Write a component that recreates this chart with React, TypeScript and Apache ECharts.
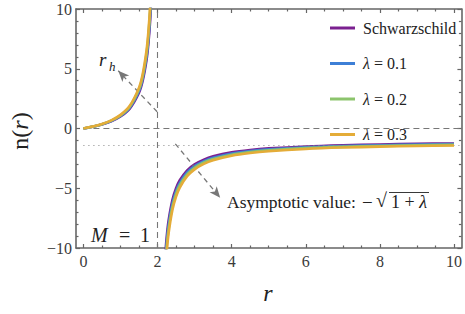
import React, { useEffect, useRef } from "react";
import * as echarts from "echarts";

const seriesNames = ["Schwarzschild", "λ = 0.1", "λ = 0.2", "λ = 0.3"];
const colors = ["#7b2090", "#3d7fd6", "#8cc46c", "#e4ac38"];

// left branch (r < r_h)
const rLeft = [0, 0.25, 0.5, 0.75, 1, 1.25, 1.5, 1.6, 1.7, 1.75, 1.8, 1.85];
const nLeftSchw = [0, 0.143, 0.333, 0.6, 1, 1.667, 3, 4, 5.667, 7, 9, 12.33];
const nLeft01 = [0, 0.15, 0.35, 0.629, 1.049, 1.748, 3.146, 4.195, 5.943, 7.342, 9.439, 12.94];
const nLeft02 = [0, 0.157, 0.365, 0.657, 1.095, 1.826, 3.286, 4.382, 6.207, 7.668, 9.859, 13.51];
const nLeft03 = [0, 0.163, 0.38, 0.684, 1.14, 1.9, 3.421, 4.561, 6.461, 7.981, 10.26, 14.06];

// right branch (r > r_h)
const rRight = [2.15, 2.2, 2.25, 2.3, 2.4, 2.5, 2.6, 2.8, 3, 3.25, 3.5, 4, 4.5, 5, 6, 7, 8, 9, 10];
const nRightSchw = [-14.33, -11, -9, -7.667, -6, -5, -4.333, -3.5, -3, -2.6, -2.333, -2, -1.8, -1.667, -1.5, -1.4, -1.333, -1.286, -1.25];
const nRight01 = [-15.03, -11.54, -9.439, -8.041, -6.293, -5.244, -4.545, -3.671, -3.146, -2.727, -2.447, -2.098, -1.888, -1.748, -1.573, -1.468, -1.398, -1.349, -1.311];
const nRight02 = [-15.7, -12.05, -9.859, -8.398, -6.573, -5.477, -4.747, -3.834, -3.286, -2.848, -2.556, -2.191, -1.972, -1.826, -1.643, -1.534, -1.461, -1.408, -1.369];
const nRight03 = [-16.34, -12.54, -10.26, -8.742, -6.841, -5.701, -4.941, -3.991, -3.421, -2.965, -2.661, -2.28, -2.052, -1.9, -1.71, -1.596, -1.52, -1.466, -1.425];

const xMajor = [0, 2, 4, 6, 8, 10];
const xMinor = [0.5, 1, 1.5, 2.5, 3, 3.5, 4.5, 5, 5.5, 6.5, 7, 7.5, 8.5, 9, 9.5];
const horizonR = 2;
const asymptoteY = -1.36;
const arrowUp = [[1.99, 1.4], [0.94, 4.83]];
const arrowDown = [[2.48, -1.28], [3.69, -5.8]];

const FONT = "Liberation Serif";
const AXIS_COLOR = "#666";
const LABEL_COLOR = "#3a3a3a";

export default function App() {
  const ref = useRef<HTMLDivElement>(null);
  useEffect(() => {
    if (!ref.current) return;
    const chart = echarts.init(ref.current, undefined, { renderer: "svg" });
    const leftData = [nLeftSchw, nLeft01, nLeft02, nLeft03];
    const rightData = [nRightSchw, nRight01, nRight02, nRight03];
    const series: any[] = [];
    for (let i = 0; i < 4; i++) {
      const common = {
        type: "line",
        name: seriesNames[i],
        showSymbol: false,
        symbol: "none",
        smooth: 0.3,
        clip: true,
        color: colors[i],
        lineStyle: { width: 2.6, color: colors[i] },
        z: 3 + i,
      };
      series.push({ ...common, data: rLeft.map((r, k) => [r, leftData[i][k]]) });
      series.push({ ...common, data: rRight.map((r, k) => [r, rightData[i][k]]) });
    }
    // reference lines
    series.push({
      type: "line",
      data: [],
      silent: true,
      z: 2,
      markLine: {
        silent: true,
        symbol: "none",
        label: { show: false },
        animation: false,
        data: [
          [
            { coord: [0, 0], lineStyle: { type: [6, 4], color: "#777", width: 1.1 } },
            { coord: [10.2, 0] },
          ],
          [
            { coord: [horizonR, -10], lineStyle: { type: [6, 4], color: "#777", width: 1.1 } },
            { coord: [horizonR, 10] },
          ],
          [
            { coord: [0, asymptoteY], lineStyle: { type: [1, 4], color: "#888", width: 1.2 } },
            { coord: [10.2, asymptoteY] },
          ],
        ],
      },
    });
    series.push({
      type: "line",
      data: [],
      silent: true,
      z: 10,
      markLine: {
        silent: true,
        symbol: ["none", "arrow"],
        symbolSize: [7, 11],
        label: { show: false },
        animation: false,
        lineStyle: { type: [5, 4], color: "#777", width: 1.3 },
        data: [
          [{ coord: arrowUp[0] }, { coord: arrowUp[1] }],
          [{ coord: arrowDown[0] }, { coord: arrowDown[1] }],
        ],
      },
    });

    const axisLine = { show: true, onZero: false, lineStyle: { color: AXIS_COLOR, width: 1.6 } };
    const noLine = { show: false, onZero: false };
    const tickStyle = { color: AXIS_COLOR, width: 1.2 };
    const option: any = {
      animation: false,
      textStyle: { fontFamily: FONT },
      grid: { left: 76, top: 9, right: 3, bottom: 66, containLabel: false },
      legend: {
        data: seriesNames,
        orient: "vertical",
        left: 325,
        top: 15,
        itemWidth: 25,
        itemHeight: 3,
        itemGap: 19.5,
        icon: "rect",
        selectedMode: false,
        formatter: (name: string) =>
          name.startsWith("λ") ? "{i|λ}{n|" + name.slice(1) + "}" : "{n|" + name + "}",
        textStyle: {
          fontFamily: FONT,
          fontSize: 16,
          color: "#222",
          lineHeight: 16,
          padding: [0, 0, 0, 3],
          rich: {
            i: { fontFamily: FONT, fontStyle: "italic", fontSize: 16, color: "#222" },
            n: { fontFamily: FONT, fontSize: 16, color: "#222" },
          },
        },
      },
      xAxis: [
        {
          type: "value",
          min: -0.2,
          max: 10.2,
          position: "bottom",
          axisLine,
          splitLine: { show: false },
          axisTick: { show: true, inside: true, length: 4, lineStyle: tickStyle, customValues: xMajor },
          axisLabel: {
            show: true,
            customValues: xMajor,
            fontFamily: FONT,
            fontSize: 16,
            color: LABEL_COLOR,
            margin: 5,
          },
        },
        {
          type: "value",
          min: -0.2,
          max: 10.2,
          position: "bottom",
          axisLine: noLine,
          splitLine: { show: false },
          axisTick: { show: true, inside: true, length: 2.5, lineStyle: tickStyle, customValues: xMinor },
          axisLabel: { show: false },
        },
        {
          type: "value",
          min: -0.2,
          max: 10.2,
          position: "top",
          axisLine,
          splitLine: { show: false },
          axisTick: { show: true, inside: true, length: 4, lineStyle: tickStyle, customValues: xMajor },
          axisLabel: { show: false },
        },
        {
          type: "value",
          min: -0.2,
          max: 10.2,
          position: "top",
          axisLine: noLine,
          splitLine: { show: false },
          axisTick: { show: true, inside: true, length: 2.5, lineStyle: tickStyle, customValues: xMinor },
          axisLabel: { show: false },
        },
      ],
      yAxis: [
        {
          type: "value",
          min: -10,
          max: 10,
          interval: 5,
          position: "left",
          axisLine,
          splitLine: { show: false },
          axisTick: { show: true, inside: true, length: 4, lineStyle: tickStyle },
          minorTick: { show: true, splitNumber: 5, length: 2.5, lineStyle: tickStyle },
          axisLabel: {
            show: true,
            fontFamily: FONT,
            fontSize: 16,
            color: LABEL_COLOR,
            margin: 4,
            formatter: (v: number) => (v < 0 ? "\u2212" + Math.abs(v) : String(v)),
          },
        },
        {
          type: "value",
          min: -10,
          max: 10,
          interval: 5,
          position: "right",
          axisLine,
          splitLine: { show: false },
          axisTick: { show: true, inside: true, length: 4, lineStyle: tickStyle },
          minorTick: { show: true, splitNumber: 5, length: 2.5, lineStyle: tickStyle },
          axisLabel: { show: false },
        },
      ],
      series,
      graphic: [
        {
          type: "text",
          x: 20,
          y: 131,
          rotation: Math.PI / 2,
          style: {
            text: "{n|n(}{i|r}{n|)}",
            align: "center",
            verticalAlign: "middle",
            rich: {
              n: { fontFamily: FONT, fontSize: 24, fill: "#222" },
              i: { fontFamily: FONT, fontSize: 24, fontStyle: "italic", fill: "#222" },
            },
          },
        },
        {
          type: "text",
          x: 268,
          y: 293,
          style: {
            text: "r",
            fontFamily: FONT,
            fontSize: 24,
            fontStyle: "italic",
            fill: "#222",
            align: "center",
            verticalAlign: "middle",
          },
        },
        {
          type: "text",
          x: 99,
          y: 50,
          style: { text: "r", fontFamily: FONT, fontSize: 19, fontStyle: "italic", fill: "#222" },
        },
        {
          type: "text",
          x: 109,
          y: 60,
          style: { text: "h", fontFamily: FONT, fontSize: 13, fontStyle: "italic", fill: "#222" },
        },
        {
          type: "text",
          x: 91,
          y: 225,
          style: { text: "M", fontFamily: FONT, fontSize: 20, fontStyle: "italic", fill: "#222" },
        },
        {
          type: "text",
          x: 119,
          y: 225,
          style: { text: "=", fontFamily: FONT, fontSize: 20, fill: "#222" },
        },
        {
          type: "text",
          x: 140,
          y: 225,
          style: { text: "1", fontFamily: FONT, fontSize: 20, fill: "#222" },
        },
        {
          type: "text",
          x: 227,
          y: 193,
          style: { text: "Asymptotic value:", fontFamily: FONT, fontSize: 17.5, fill: "#222" },
        },
        {
          type: "text",
          x: 362,
          y: 193,
          style: { text: "\u2212", fontFamily: FONT, fontSize: 19, fill: "#222" },
        },
        {
          type: "text",
          x: 376,
          y: 190,
          style: { text: "\u221a", fontFamily: FONT, fontSize: 20, fill: "#222" },
        },
        {
          type: "text",
          x: 391,
          y: 193,
          style: {
            text: "{n|1 + }{i|λ}",
            rich: {
              n: { fontFamily: FONT, fontSize: 18, fill: "#222" },
              i: { fontFamily: FONT, fontSize: 18, fontStyle: "italic", fill: "#222" },
            },
          },
        },
        {
          type: "line",
          shape: { x1: 389, y1: 192.5, x2: 429, y2: 192.5 },
          style: { stroke: "#222", lineWidth: 0.9 },
        },
      ],
    };
    chart.setOption(option);
    return () => chart.dispose();
  }, []);
  return <div ref={ref} style={{ width: 465, height: 314, position: "absolute", left: 0, top: 0 }} />;
}
